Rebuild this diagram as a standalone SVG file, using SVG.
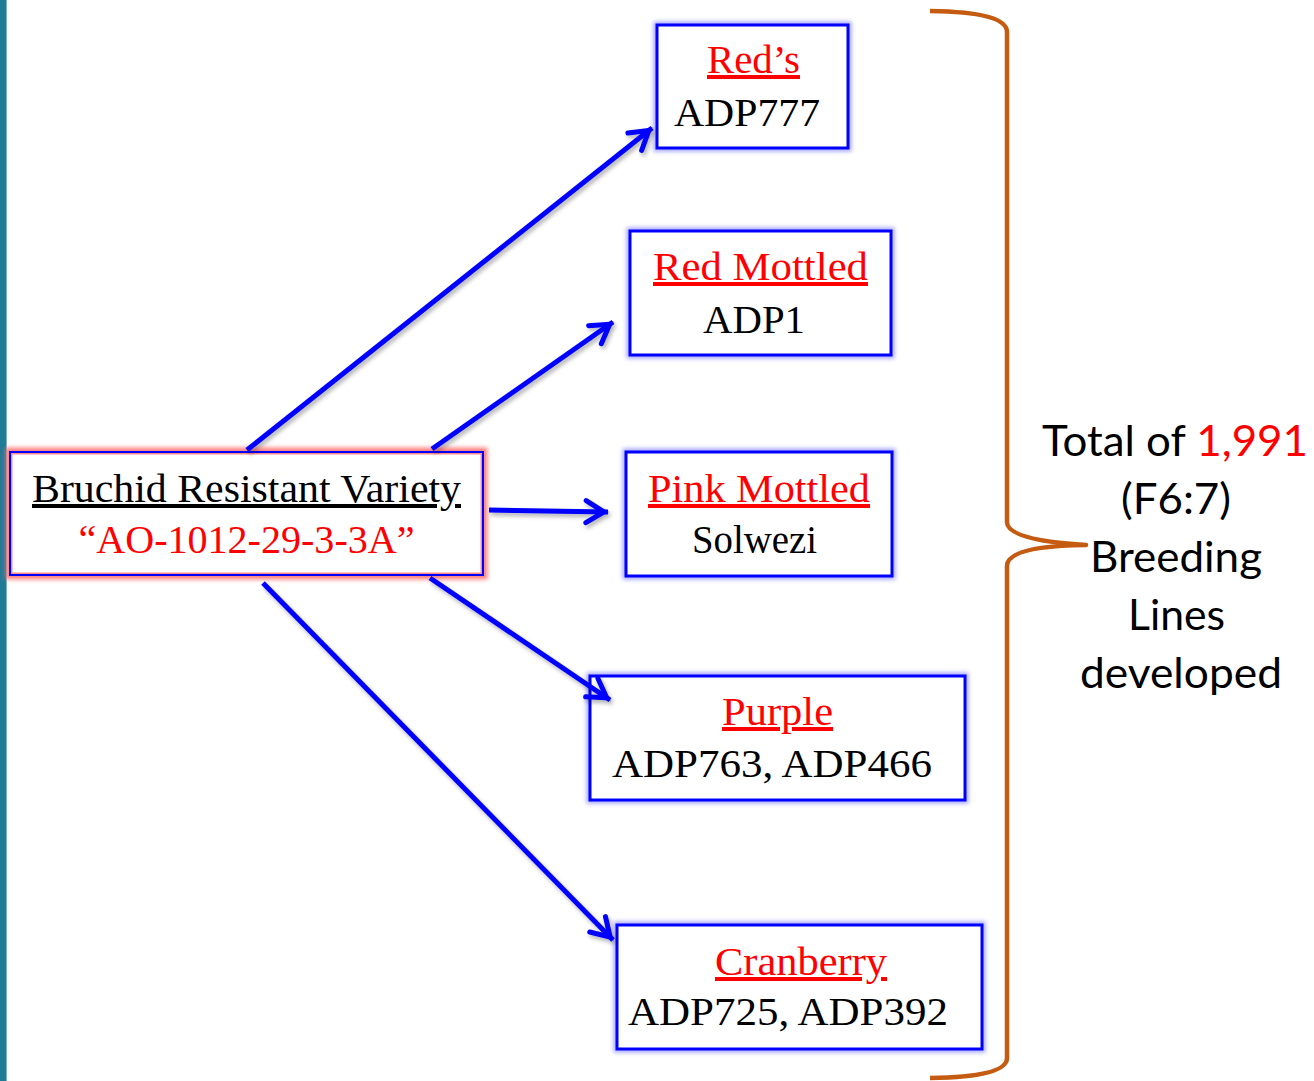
<svg xmlns="http://www.w3.org/2000/svg" width="1314" height="1081" viewBox="0 0 1314 1081">
<defs>
<style>
.s{font-family:"Liberation Serif","Times New Roman",serif;font-size:40px;text-anchor:middle}
.r{fill:#FF0000}
.k{fill:#000000}
.u{text-decoration:underline;text-decoration-skip-ink:none}
.ss{font-family:Lato,"Open Sans","Liberation Sans",sans-serif;font-size:42px;text-anchor:middle;fill:#000}
.bx{fill:#fff;stroke:#0000FF;stroke-width:3}
.gl{fill:none;stroke:#8080FF;stroke-width:7;opacity:0.7}
.cn{stroke:#0000FF;stroke-width:5;fill:none;marker-end:url(#ah)}
</style>
<filter id="blur" x="-10%" y="-10%" width="120%" height="120%"><feGaussianBlur stdDeviation="2"/></filter>
<filter id="sh" x="-10%" y="-10%" width="120%" height="120%"><feDropShadow dx="2" dy="3" stdDeviation="2" flood-color="#000" flood-opacity="0.3"/></filter>
<marker id="ah" viewBox="-26 -14 28 28" refX="0" refY="0" markerWidth="28" markerHeight="28" markerUnits="userSpaceOnUse" orient="auto">
<path d="M -22 -11 L -4 0 L -22 11" fill="none" stroke="#0000FF" stroke-width="5" stroke-linecap="round"/>
</marker>
</defs>
<rect x="0" y="0" width="1314" height="1081" fill="#fff"/>
<rect x="0" y="0" width="6" height="1081" fill="#217A96"/>
<rect x="6" y="0" width="1" height="1081" fill="#7FB3C6"/>

<g id="source">
<rect x="10" y="452" width="473" height="123" fill="none" stroke="#FF6666" stroke-width="9" filter="url(#blur)" opacity="0.8"/>
<rect x="10" y="452" width="473" height="123" fill="#fff" stroke="#FF8A8A" stroke-width="5"/>
<rect x="10" y="452" width="473" height="123" fill="none" stroke="#0000FF" stroke-width="2"/>
<text class="s k u" x="246.5" y="502" textLength="429" lengthAdjust="spacingAndGlyphs">Bruchid Resistant Variety</text>
<text class="s r" x="246.5" y="553" font-size="42" textLength="336" lengthAdjust="spacingAndGlyphs">“AO-1012-29-3-3A”</text>
</g>

<g id="reds">
<rect class="gl" x="657" y="25" width="191" height="123" filter="url(#blur)"/>
<rect class="bx" x="657" y="25" width="191" height="123"/>
<text class="s r u" x="753.5" y="73" textLength="93" lengthAdjust="spacingAndGlyphs">Red’s</text>
<text class="s k" x="747" y="126" font-size="42" textLength="146" lengthAdjust="spacingAndGlyphs">ADP777</text>
</g>

<g id="red-mottled">
<rect class="gl" x="630" y="231" width="261" height="124" filter="url(#blur)"/>
<rect class="bx" x="630" y="231" width="261" height="124"/>
<text class="s r u" x="760.5" y="280" textLength="215" lengthAdjust="spacingAndGlyphs">Red Mottled</text>
<text class="s k" x="754" y="333" textLength="102" lengthAdjust="spacingAndGlyphs">ADP1</text>
</g>

<g id="pink-mottled">
<rect class="gl" x="626" y="452" width="266" height="124" filter="url(#blur)"/>
<rect class="bx" x="626" y="452" width="266" height="124"/>
<text class="s r u" x="759" y="502" textLength="222" lengthAdjust="spacingAndGlyphs">Pink Mottled</text>
<text class="s k" x="754.5" y="553" textLength="125" lengthAdjust="spacingAndGlyphs">Solwezi</text>
</g>

<g id="purple">
<rect class="gl" x="590" y="676" width="375" height="124" filter="url(#blur)"/>
<rect class="bx" x="590" y="676" width="375" height="124"/>
<text class="s r u" x="777.5" y="725" textLength="111" lengthAdjust="spacingAndGlyphs">Purple</text>
<text class="s k" x="772" y="777" textLength="320" lengthAdjust="spacingAndGlyphs">ADP763, ADP466</text>
</g>

<g id="cranberry">
<rect class="gl" x="617" y="925" width="365" height="124" filter="url(#blur)"/>
<rect class="bx" x="617" y="925" width="365" height="124"/>
<text class="s r u" x="801" y="975" textLength="172" lengthAdjust="spacingAndGlyphs">Cranberry</text>
<text class="s k" x="788" y="1025" textLength="320" lengthAdjust="spacingAndGlyphs">ADP725, ADP392</text>
</g>

<g id="connectors" filter="url(#sh)">
<line class="cn" x1="247" y1="450" x2="652" y2="128"/>
<line class="cn" x1="432" y1="449" x2="613" y2="322"/>
<line class="cn" x1="489" y1="510" x2="608" y2="512"/>
<line class="cn" x1="430" y1="578" x2="610" y2="700"/>
<line class="cn" x1="263" y1="583" x2="613" y2="940"/>
</g>

<g id="brace">
<path d="M 930 11 Q 1007 12 1007 32 L 1007 522 Q 1007 540 1086 545 Q 1007 546 1007 566 L 1007 1058 Q 1007 1077 930 1078" fill="none" stroke="#C55A11" stroke-width="4.5" stroke-linejoin="round"/>
</g>

<g id="total-label">
<text class="ss" x="1175" y="456" textLength="266" lengthAdjust="spacingAndGlyphs">Total of <tspan fill="#FF0000">1,991</tspan></text>
<text class="ss" x="1176" y="514" textLength="110" lengthAdjust="spacingAndGlyphs">(F6:7)</text>
<text class="ss" x="1176" y="572" textLength="172" lengthAdjust="spacingAndGlyphs">Breeding</text>
<text class="ss" x="1176.5" y="630" textLength="97" lengthAdjust="spacingAndGlyphs">Lines</text>
<text class="ss" x="1181" y="688" textLength="202" lengthAdjust="spacingAndGlyphs">developed</text>
</g>
</svg>
